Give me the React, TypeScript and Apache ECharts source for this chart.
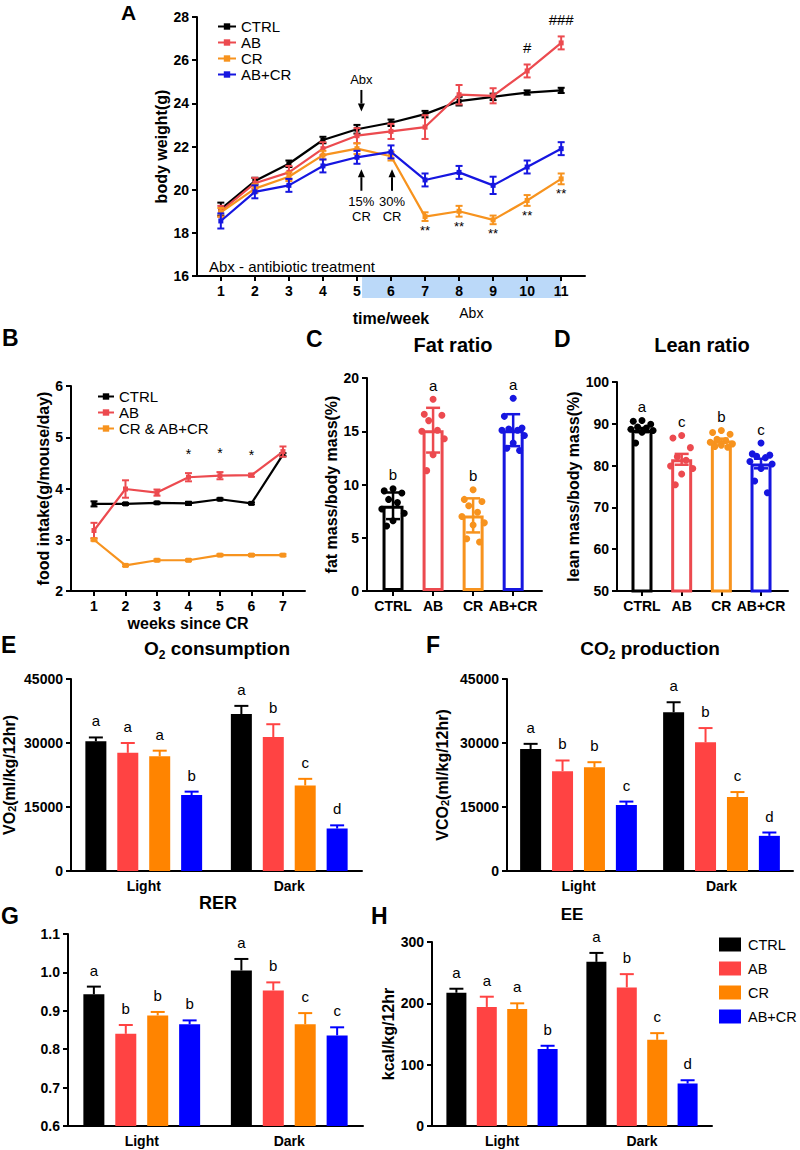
import React, { useEffect, useRef } from "react";
import * as echarts from "echarts";

const FONT = "'Liberation Sans', Arial, Helvetica, sans-serif";

const GROUPS = ["CTRL", "AB", "CR", "AB+CR"];
const LINE_COLORS = ["#000000", "#EC4A4F", "#F7931E", "#1616E0"];
const BAR_COLORS = ["#000000", "#FF4343", "#FF8400", "#0000FF"];

// ---------- Panel A: body weight ----------
const WEEKS_A = [1, 2, 3, 4, 5, 6, 7, 8, 9, 10, 11];
const A_CTRL = [19.1, 20.4, 21.2, 22.3, 22.8, 23.1, 23.5, 24.1, 24.3, 24.5, 24.6];
const A_AB = [19.0, 20.3, 20.8, 21.9, 22.5, 22.7, 22.9, 24.4, 24.35, 25.5, 26.8];
const A_CR = [18.95, 20.05, 20.6, 21.6, 21.9, 21.55, 18.75, 19.0, 18.6, 19.5, 20.5];
const A_ABCR = [18.55, 19.9, 20.2, 21.1, 21.5, 21.75, 20.45, 20.8, 20.2, 21.05, 21.9];
const A_CTRL_SEM = [0.3, 0.15, 0.15, 0.15, 0.2, 0.15, 0.15, 0.2, 0.15, 0.1, 0.12];
const A_AB_SEM = [0.25, 0.25, 0.3, 0.3, 0.35, 0.35, 0.55, 0.45, 0.35, 0.3, 0.3];
const A_CR_SEM = [0.2, 0.2, 0.2, 0.2, 0.25, 0.2, 0.2, 0.25, 0.2, 0.25, 0.25];
const A_ABCR_SEM = [0.35, 0.3, 0.3, 0.3, 0.3, 0.3, 0.3, 0.3, 0.4, 0.3, 0.3];
const A_STAR_WEEKS = [7, 8, 9, 10, 11];
const A_HASH_WEEKS = [10, 11];
const A_HASH_TEXT = ["#", "###"];
const A_ARROWS = [[5.13, 24.62, 23.62], [5.13, 19.95, 20.95], [6.03, 19.95, 20.95]];
const A_ARROW_TEXT_POS = [[5.13, 25.1], [5.13, 19.1], [6.03, 19.1]];
const A_ARROW_TEXT = ["Abx", "15%\nCR", "30%\nCR"];
const A_ABX_BAND = [5.15, 11];

// ---------- Panel B: food intake ----------
const WEEKS_B = [1, 2, 3, 4, 5, 6, 7];
const B_LEGEND = ["CTRL", "AB", "CR & AB+CR"];
const B_CTRL = [3.7, 3.7, 3.72, 3.71, 3.79, 3.71, 4.66];
const B_AB = [3.18, 3.99, 3.92, 4.22, 4.25, 4.26, 4.72];
const B_CR = [3.0, 2.5, 2.6, 2.6, 2.7, 2.7, 2.7];
const B_CTRL_SEM = [0.05, 0.02, 0.02, 0.03, 0.02, 0.02, 0.03];
const B_AB_SEM = [0.15, 0.17, 0.06, 0.08, 0.07, 0.03, 0.1];
const B_CR_SEM = [0.02, 0.02, 0.02, 0.02, 0.02, 0.02, 0.02];
const B_STAR_WEEKS = [4, 5, 6];

// ---------- Panel C: fat ratio ----------
const C_CTRL_PTS = [9.6, 9.4, 9.2, 8.6, 8.3, 7.7, 7.3, 6.6, 6.1];
const C_AB_PTS = [18.0, 16.6, 16.5, 16.0, 15.1, 15.0, 14.3, 12.8, 11.3];
const C_CR_PTS = [9.5, 8.6, 8.4, 8.0, 7.4, 7.0, 6.4, 6.2, 4.9, 4.6];
const C_ABCR_PTS = [18.1, 16.4, 15.3, 15.2, 15.1, 15.1, 14.6, 13.9, 13.4, 13.2];
const C_MEAN = [8.0, 15.1, 7.1, 15.1];
const C_SD = [1.25, 2.1, 1.6, 1.5];
const C_LETTERS = ["b", "a", "b", "a"];

// ---------- Panel D: lean ratio ----------
const D_CTRL_PTS = [90.8, 90.6, 89.9, 89.2, 89.0, 88.7, 88.4, 88.0, 85.4];
const D_AB_PTS = [87.2, 86.6, 84.3, 82.1, 81.3, 79.9, 79.3, 78.0, 75.4];
const D_CR_PTS = [88.4, 87.9, 87.5, 86.3, 86.0, 85.6, 85.2, 84.9, 84.6, 84.4];
const D_ABCR_PTS = [85.4, 82.8, 82.5, 82.2, 81.9, 81.0, 80.4, 79.3, 76.3, 73.5];
const D_MEAN = [88.5, 81.5, 86.0, 80.5];
const D_SEM = [0.5, 1.3, 0.45, 1.15];
const D_LETTERS = ["a", "c", "b", "c"];

// ---------- Panels E-H (per group: [Light, Dark]) ----------
const PHASES = ["Light", "Dark"];
const E_MEANS = [[30400, 36800], [27700, 31400], [26900, 20050], [17800, 9950]];
const E_ERRS = [[900, 1900], [2300, 3000], [1300, 1550], [800, 750]];
const E_LETTERS = [["a", "a"], ["a", "b"], ["a", "c"], ["b", "d"]];
const F_MEANS = [[28600, 37200], [23400, 30150], [24300, 17330], [15470, 8240]];
const F_ERRS = [[1200, 2350], [2500, 3350], [1200, 1170], [800, 780]];
const F_LETTERS = [["a", "a"], ["b", "b"], ["b", "c"], ["c", "d"]];
const G_MEANS = [[0.943, 1.005], [0.84, 0.953], [0.888, 0.865], [0.865, 0.836]];
const G_ERRS = [[0.02, 0.03], [0.023, 0.021], [0.009, 0.029], [0.01, 0.021]];
const G_LETTERS = [["a", "a"], ["b", "b"], ["b", "c"], ["b", "c"]];
const H_MEANS = [[217.3, 267.6], [194.1, 226], [190.8, 140.5], [125.4, 69.2]];
const H_ERRS = [[6.5, 14.6], [16.7, 21.6], [9.2, 10.9], [5.4, 5.4]];
const H_LETTERS = [["a", "a"], ["a", "b"], ["a", "c"], ["b", "d"]];

// layout
const GRIDS = [
  { left: 197, top: 17, width: 388, height: 259 },
  { left: 71, top: 386, width: 234, height: 205 },
  { left: 367, top: 378, width: 175, height: 213 },
  { left: 617, top: 382, width: 171, height: 209 },
  { left: 71, top: 679, width: 291, height: 192 },
  { left: 507, top: 679, width: 286, height: 192 },
  { left: 68, top: 934, width: 295, height: 192 },
  { left: 432, top: 942, width: 280, height: 184 },
];
const JITTER = [0, -0.22, 0.22, -0.11, 0.11, -0.28, 0.28, 0, -0.16, 0.16];

function errSeries(o: any) {
  const { name, axis, data, color, capHalf, lw, up = false, dx = 0, letters, z = 4 } = o;
  return {
    type: "custom",
    name,
    xAxisIndex: axis,
    yAxisIndex: axis,
    silent: true,
    z,
    data,
    renderItem: (params: any, api: any) => {
      const x = api.value(0);
      const m = api.value(1);
      const e = api.value(2);
      const top = api.coord([x, m + e]);
      const bot = api.coord([x, up ? m : m - e]);
      const cx = top[0] + dx;
      const st = { stroke: color, lineWidth: lw };
      const children: any[] = [
        { type: "line", shape: { x1: cx, y1: top[1], x2: cx, y2: bot[1] }, style: st },
        { type: "line", shape: { x1: cx - capHalf, y1: top[1], x2: cx + capHalf, y2: top[1] }, style: st },
      ];
      if (!up) {
        children.push({ type: "line", shape: { x1: cx - capHalf, y1: bot[1], x2: cx + capHalf, y2: bot[1] }, style: st });
      }
      if (letters) {
        children.push({
          type: "text",
          x: cx,
          y: top[1] - 9,
          style: { text: letters[params.dataIndex], align: "center", verticalAlign: "bottom", fontSize: 15, fontFamily: FONT, fill: "#000" },
        });
      }
      return { type: "group", children };
    },
  };
}

function textSeries(name: string, axis: number, pts: number[][], texts: string[], style: any, dx = 0, dy = 0) {
  return {
    type: "custom",
    name,
    xAxisIndex: axis,
    yAxisIndex: axis,
    silent: true,
    z: 6,
    data: pts,
    renderItem: (params: any, api: any) => {
      const p = api.coord([api.value(0), api.value(1)]);
      return {
        type: "text",
        x: p[0] + dx,
        y: p[1] + dy,
        style: { text: texts[params.dataIndex], align: "center", verticalAlign: "middle", fill: "#000", fontFamily: FONT, fontSize: 14, ...style },
      };
    },
  };
}

function buildOption() {
  const xAxis: any[] = [];
  const yAxis: any[] = [];
  const series: any[] = [];
  const axLine = { show: true, onZero: false, lineStyle: { color: "#000", width: 2 } };
  const axTick = { show: true, length: 5, lineStyle: { color: "#000", width: 2 } };
  const lbl = (fs = 14) => ({ color: "#000", fontWeight: "bold", fontSize: fs, fontFamily: FONT, margin: 8 });
  const nameStyle = (fs = 16) => ({
    color: "#000",
    fontWeight: "bold",
    fontSize: fs,
    fontFamily: FONT,
    rich: { s: { fontSize: 11, fontWeight: "bold", fontFamily: FONT, verticalAlign: "bottom", lineHeight: 11 } },
  });
  const noSplit = { show: false };

  // ----- A -----
  xAxis.push({
    type: "value", gridIndex: 0, min: 0.3, max: 11.7, z: 5,
    axisLine: axLine, axisTick: { ...axTick, customValues: WEEKS_A }, axisLabel: { ...lbl(), customValues: WEEKS_A },
    splitLine: noSplit, name: "time/week", nameLocation: "middle", nameGap: 34, nameTextStyle: nameStyle(16),
  });
  yAxis.push({
    type: "value", gridIndex: 0, min: 16, max: 28, interval: 2,
    axisLine: axLine, axisTick: axTick, axisLabel: lbl(), splitLine: noSplit,
    name: "body weight(g)", nameLocation: "middle", nameRotate: 90, nameGap: 24, nameTextStyle: nameStyle(16),
  });
  series.push({
    type: "custom", name: "abxBand", xAxisIndex: 0, yAxisIndex: 0, silent: true, z: 0,
    data: [A_ABX_BAND],
    renderItem: (_p: any, api: any) => {
      const a = api.coord([api.value(0), 16]);
      const b = api.coord([api.value(1), 16]);
      return { type: "rect", shape: { x: a[0], y: a[1] + 1, width: b[0] - a[0], height: 21 }, style: { fill: "#BBD9F9" } };
    },
  });
  const aSets = [A_CTRL, A_AB, A_CR, A_ABCR];
  const aSems = [A_CTRL_SEM, A_AB_SEM, A_CR_SEM, A_ABCR_SEM];
  GROUPS.forEach((g, i) => {
    series.push({
      type: "line", name: g + "|A", xAxisIndex: 0, yAxisIndex: 0, silent: true, z: 3 + i,
      data: WEEKS_A.map((w, k) => [w, aSets[i][k]]),
      symbol: "rect", symbolSize: 5, lineStyle: { width: 2.2, color: LINE_COLORS[i] }, itemStyle: { color: LINE_COLORS[i] },
    });
    series.push(errSeries({ name: "errA" + i, axis: 0, data: WEEKS_A.map((w, k) => [w, aSets[i][k], aSems[i][k]]), color: LINE_COLORS[i], capHalf: 3.5, lw: 2, z: 3 + i }));
  });
  series.push({
    type: "custom", name: "arrowsA", xAxisIndex: 0, yAxisIndex: 0, silent: true, z: 6, data: A_ARROWS,
    renderItem: (_p: any, api: any) => {
      const x = api.value(0);
      const p1 = api.coord([x, api.value(1)]);
      const p2 = api.coord([x, api.value(2)]);
      const dir = p2[1] > p1[1] ? 1 : -1;
      const hl = 8;
      return {
        type: "group",
        children: [
          { type: "line", shape: { x1: p1[0], y1: p1[1], x2: p2[0], y2: p2[1] - dir * hl }, style: { stroke: "#000", lineWidth: 2 } },
          { type: "polygon", shape: { points: [[p2[0], p2[1]], [p2[0] - 3.5, p2[1] - dir * hl], [p2[0] + 3.5, p2[1] - dir * hl]] }, style: { fill: "#000" } },
        ],
      };
    },
  });
  series.push(textSeries("arrowTextA", 0, A_ARROW_TEXT_POS, A_ARROW_TEXT, { fontSize: 13, lineHeight: 15 }));
  series.push(textSeries("starsA", 0, A_STAR_WEEKS.map((w) => [w, A_CR[w - 1] - A_CR_SEM[w - 1] - 0.45]), A_STAR_WEEKS.map(() => "**"), { fontSize: 13 }));
  series.push(textSeries("hashA", 0, A_HASH_WEEKS.map((w) => [w, A_AB[w - 1] + A_AB_SEM[w - 1] + 0.8]), A_HASH_TEXT, { fontSize: 15 }));
  series.push(textSeries("abxLabelA", 0, [[8.36, 16]], ["Abx"], { fontSize: 14 }, 0, 37));

  // ----- B -----
  xAxis.push({
    type: "value", gridIndex: 1, min: 0.27, max: 7.7,
    axisLine: axLine, axisTick: { ...axTick, customValues: WEEKS_B }, axisLabel: { ...lbl(), customValues: WEEKS_B },
    splitLine: noSplit, name: "weeks since CR", nameLocation: "middle", nameGap: 24, nameTextStyle: nameStyle(16),
  });
  yAxis.push({
    type: "value", gridIndex: 1, min: 2, max: 6, interval: 1,
    axisLine: axLine, axisTick: axTick, axisLabel: lbl(), splitLine: noSplit,
    name: "food intake(g/mouse/day)", nameLocation: "middle", nameRotate: 90, nameGap: 17, nameTextStyle: nameStyle(16),
  });
  const bSets = [B_CTRL, B_AB, B_CR];
  const bSems = [B_CTRL_SEM, B_AB_SEM, B_CR_SEM];
  B_LEGEND.forEach((g, i) => {
    series.push({
      type: "line", name: g + "|B", xAxisIndex: 1, yAxisIndex: 1, silent: true, z: 3 + i,
      data: WEEKS_B.map((w, k) => [w, bSets[i][k]]),
      symbol: "rect", symbolSize: 5, lineStyle: { width: 2.2, color: LINE_COLORS[i] }, itemStyle: { color: LINE_COLORS[i] },
    });
    series.push(errSeries({ name: "errB" + i, axis: 1, data: WEEKS_B.map((w, k) => [w, bSets[i][k], bSems[i][k]]), color: LINE_COLORS[i], capHalf: 3.5, lw: 2, z: 3 + i }));
  });
  series.push(textSeries("starsB", 1, B_STAR_WEEKS.map((w) => [w, B_AB[w - 1] + B_AB_SEM[w - 1] + 0.37]), B_STAR_WEEKS.map(() => "*"), { fontSize: 14 }));

  // ----- C & D -----
  const dotPanels = [
    { axis: 2, pts: [C_CTRL_PTS, C_AB_PTS, C_CR_PTS, C_ABCR_PTS], mean: C_MEAN, err: C_SD, letters: C_LETTERS, min: 0, max: 20, step: 5, xmin: 0.35, xmax: 4.72, name: "fat mass/body mass(%)", gap: 26 },
    { axis: 3, pts: [D_CTRL_PTS, D_AB_PTS, D_CR_PTS, D_ABCR_PTS], mean: D_MEAN, err: D_SEM, letters: D_LETTERS, min: 50, max: 100, step: 10, xmin: 0.37, xmax: 4.68, name: "lean mass/body mass(%)", gap: 34 },
  ];
  const catPos = [1, 2, 3, 4];
  dotPanels.forEach((P) => {
    xAxis.push({
      type: "value", gridIndex: P.axis, min: P.xmin, max: P.xmax,
      axisLine: axLine, axisTick: { ...axTick, customValues: catPos },
      axisLabel: { ...lbl(), customValues: catPos, formatter: (v: number) => GROUPS[Math.round(v) - 1] },
      splitLine: noSplit,
    });
    yAxis.push({
      type: "value", gridIndex: P.axis, min: P.min, max: P.max, interval: P.step,
      axisLine: axLine, axisTick: axTick, axisLabel: lbl(), splitLine: noSplit,
      name: P.name, nameLocation: "middle", nameRotate: 90, nameGap: P.gap, nameTextStyle: nameStyle(16),
    });
    series.push({
      type: "bar", name: "bars" + P.axis, xAxisIndex: P.axis, yAxisIndex: P.axis, silent: true, barWidth: 21, z: 2,
      data: GROUPS.map((_g, i) => ({ value: [i + 1, P.mean[i]], itemStyle: { color: "#FFFFFF", borderColor: LINE_COLORS[i], borderWidth: 3 } })),
    });
    GROUPS.forEach((_g, i) => {
      series.push({
        type: "scatter", name: "dots" + P.axis + "_" + i, xAxisIndex: P.axis, yAxisIndex: P.axis, silent: true, z: 4,
        symbolSize: 7, itemStyle: { color: LINE_COLORS[i], opacity: 1 },
        data: P.pts[i].map((v, k) => [i + 1 + JITTER[k % JITTER.length], v]),
      });
      series.push(errSeries({ name: "err" + P.axis + "_" + i, axis: P.axis, data: [[i + 1, P.mean[i], P.err[i]]], color: LINE_COLORS[i], capHalf: 7, lw: 2.5, z: 5 }));
    });
    series.push(textSeries("letters" + P.axis, P.axis, GROUPS.map((_g, i) => [i + 1, Math.max(...P.pts[i])]), P.letters, { fontSize: 15 }, 0, -14));
  });

  // ----- E-H -----
  const barPanels = [
    { key: "E", axis: 4, means: E_MEANS, errs: E_ERRS, letters: E_LETTERS, min: 0, max: 45000, step: 15000, name: "VO{s|2}(ml/kg/12hr)", gap: 54, bw: 21, gapFrac: 0.52 },
    { key: "F", axis: 5, means: F_MEANS, errs: F_ERRS, letters: F_LETTERS, min: 0, max: 45000, step: 15000, name: "VCO{s|2}(ml/kg/12hr)", gap: 57, bw: 21, gapFrac: 0.52 },
    { key: "G", axis: 6, means: G_MEANS, errs: G_ERRS, letters: G_LETTERS, min: 0.6, max: 1.1, step: 0.1, name: "", gap: 40, bw: 21, gapFrac: 0.52 },
    { key: "H", axis: 7, means: H_MEANS, errs: H_ERRS, letters: H_LETTERS, min: 0, max: 300, step: 100, name: "kcal/kg/12hr", gap: 35, bw: 20, gapFrac: 0.52 },
  ];
  barPanels.forEach((P) => {
    xAxis.push({
      type: "category", gridIndex: P.axis, data: PHASES,
      axisLine: axLine, axisTick: { show: false }, axisLabel: lbl(), splitLine: noSplit,
    });
    yAxis.push({
      type: "value", gridIndex: P.axis, min: P.min, max: P.max, interval: P.step,
      axisLine: axLine, axisTick: axTick,
      axisLabel: { ...lbl(), formatter: (v: number) => (P.key === "G" ? v.toFixed(1) : String(Math.round(v))) },
      splitLine: noSplit,
      name: P.name, nameLocation: "middle", nameRotate: 90, nameGap: P.gap, nameTextStyle: nameStyle(16),
    });
    const spacing = P.bw * (1 + P.gapFrac);
    GROUPS.forEach((g, i) => {
      series.push({
        type: "bar", name: g + "|" + P.key, xAxisIndex: P.axis, yAxisIndex: P.axis, silent: true,
        barWidth: P.bw, barGap: Math.round(P.gapFrac * 100) + "%", z: 2,
        itemStyle: { color: BAR_COLORS[i] }, data: P.means[i],
      });
      series.push(errSeries({
        name: "err" + P.key + i, axis: P.axis,
        data: P.means[i].map((m, k) => [k, m, P.errs[i][k]]),
        color: BAR_COLORS[i], capHalf: 7, lw: 2, up: true, dx: (i - 1.5) * spacing, letters: P.letters[i], z: 3,
      }));
    });
  });

  const txt = (text: string, x: number, y: number, size: number, extra: any = {}) => ({
    type: "text", x, y, silent: true,
    style: {
      text, fontSize: size, fontWeight: "bold", fontFamily: FONT, fill: "#000", align: "center", verticalAlign: "middle",
      rich: {
        m: { fontSize: size, fontWeight: "bold", fontFamily: FONT, lineHeight: size + 6 },
        s: { fontSize: Math.round(size * 0.65), fontWeight: "bold", fontFamily: FONT, lineHeight: 10, verticalAlign: "bottom" },
      },
      ...extra,
    },
  });
  const letter = (t: string, x: number, y: number, size = 23) => txt(t, x, y, size, { align: "left", verticalAlign: "top" });

  const graphic = [
    letter("A", 121, 2, 21),
    letter("B", 2, 326),
    letter("C", 306, 327),
    letter("D", 554, 327),
    letter("E", 1, 633),
    letter("F", 426, 633),
    letter("G", 1, 904),
    letter("H", 371, 904),
    txt("Fat ratio", 453, 345, 20),
    txt("Lean ratio", 702, 345, 20),
    txt("{m|O}{s|2}{m| consumption}", 217, 648, 19),
    txt("{m|CO}{s|2}{m| production}", 650, 648, 19),
    txt("RER", 218, 903, 18),
    txt("EE", 572, 914, 17),
    {
      type: "text", x: 209, y: 266, silent: true,
      style: { text: "Abx - antibiotic treatment", fontSize: 15, fontFamily: FONT, fill: "#000", align: "left", verticalAlign: "middle" },
    },
  ];

  const legendText = { color: "#000", fontSize: 15, fontFamily: FONT };
  const legend = [
    {
      left: 212, top: 14, orient: "vertical", itemWidth: 18, itemHeight: 8, itemGap: 1, selectedMode: false,
      data: GROUPS.map((g) => g + "|A"), formatter: (n: string) => n.split("|")[0], textStyle: legendText,
    },
    {
      left: 92, top: 384, orient: "vertical", itemWidth: 16, itemHeight: 8, itemGap: 1, selectedMode: false,
      data: B_LEGEND.map((g) => g + "|B"), formatter: (n: string) => n.split("|")[0], textStyle: legendText,
    },
    {
      left: 714, top: 932, orient: "vertical", itemWidth: 22, itemHeight: 14, itemGap: 9, selectedMode: false, icon: "rect",
      data: GROUPS.map((g) => g + "|H"), formatter: (n: string) => n.split("|")[0],
      textStyle: { ...legendText, fontSize: 14.5, padding: [0, 0, 0, 2] },
    },
  ];

  return {
    animation: false,
    backgroundColor: "#FFFFFF",
    textStyle: { fontFamily: FONT },
    grid: GRIDS.map((g) => ({ ...g, containLabel: false, outerBoundsMode: "none" })),
    xAxis,
    yAxis,
    legend,
    graphic,
    series,
  };
}

export default function App() {
  const ref = useRef<HTMLDivElement>(null);
  useEffect(() => {
    document.body.style.margin = "0";
    const chart = echarts.init(ref.current as HTMLDivElement, null, { renderer: "svg" });
    chart.setOption(buildOption() as any);
    return () => chart.dispose();
  }, []);
  return <div ref={ref} style={{ width: 800, height: 1150 }} />;
}
